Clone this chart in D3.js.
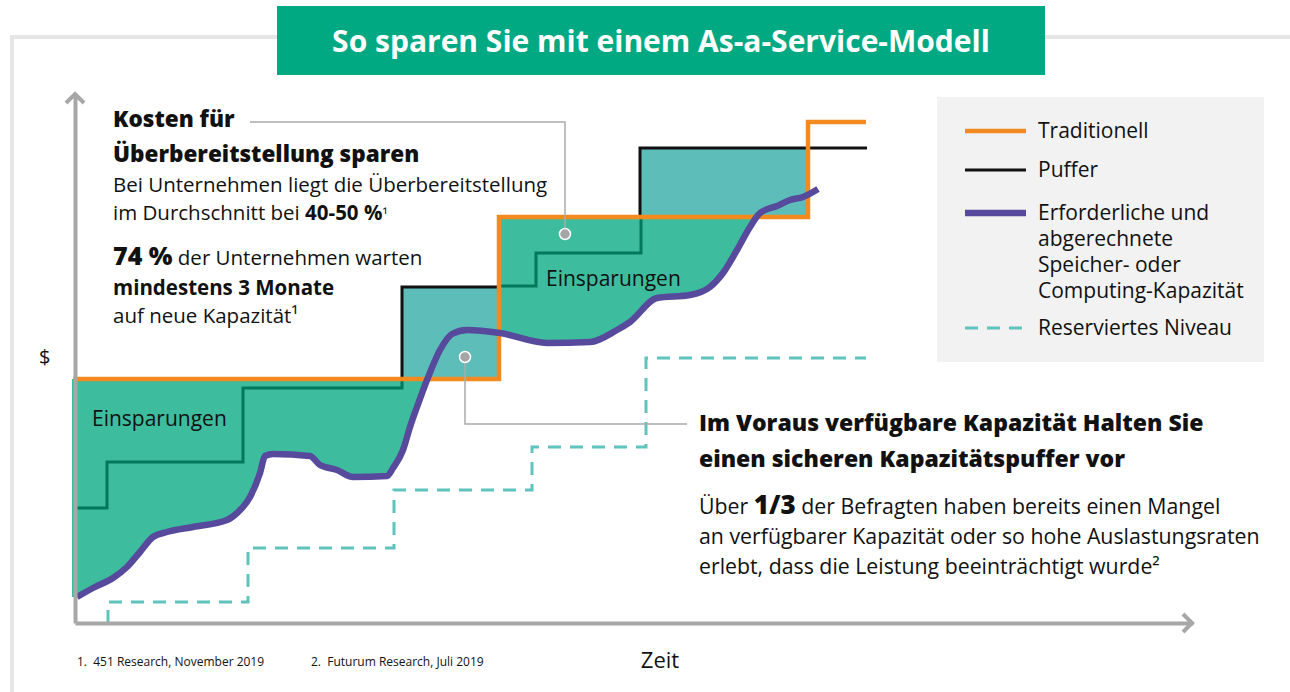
<!DOCTYPE html>
<html>
<head>
<meta charset="utf-8">
<script src="https://cdn.jsdelivr.net/npm/d3@7"></script>
<style>
  body { margin: 0; background: #fff; }
  svg text { font-family: "Open Sans", Lato, sans-serif; fill: #111; }
</style>
</head>
<body>
<div id="chart"></div>
<script>
const W = 1290, H = 692;

// step lines (x = time, y = $)
const tradX = [0, 424, 733, 791];
const tradY = [244, 406, 501, 501];

const pufferX = [0, 327, 424, 565, 792];
const pufferY = [244, 336, 406, 475, 475];

const prevX = [0, 32, 168, 327, 424, 461, 566];
const prevY = [115, 161, 235, 244, 337, 370, 406];

const reservedX = [33, 33, 173, 319, 457, 571, 791];
const reservedY = [0, 21, 75, 133, 176, 265, 265];

// measured demand curve
const demandX = [2, 18, 38, 52, 65, 78, 92, 118, 152, 162, 175, 185, 190, 198, 235, 245, 262, 278, 312, 318, 328, 335, 342, 352, 365, 377, 392, 425, 472, 515, 542, 555, 582, 615, 635, 648, 662, 675, 685, 702, 715, 728, 743];
const demandY = [26, 35, 45, 56, 71, 86, 91, 96, 103, 110, 126, 150, 167, 169, 167, 158, 153, 146, 147, 155, 173, 196, 216, 243, 273, 289, 293, 290, 280, 281, 293, 301, 325, 328, 336, 350, 373, 396, 410, 417, 423, 426, 434];

const legendLabels = ["Traditionell", "Puffer", ["Erforderliche und", "abgerechnete", "Speicher- oder", "Computing-Kapazität"], "Reserviertes Niveau"];

const colors = {
  trad: "#f28a1f", puffer: "#111", demand: "#574a9d", reserved: "#5ec4bc",
  prev: "#00785a", green: "#3ebd9e", teal: "#5dbdb8", axis: "#a7a7a7", title: "#01a982"
};

const svg = d3.select("#chart").append("svg")
    .attr("width", W)
    .attr("height", H);

const x = d3.scaleLinear().domain([0, 800]).range([75, 875]);
const y = d3.scaleLinear().domain([0, 530]).range([623, 93]);

const pts = (xs, ys) => xs.map((v, i) => [v, ys[i]]);
const trad = pts(tradX, tradY);
const puffer = pts(pufferX, pufferY);
const prev = pts(prevX, prevY);
const reserved = pts(reservedX, reservedY);
const demand = pts(demandX, demandY);

// outer frame
svg.append("path")
    .attr("d", "M12,692V37H1290")
    .attr("fill", "none")
    .attr("stroke", "#e6e6e6")
    .attr("stroke-width", 4);

// title
svg.append("rect")
    .attr("x", 277).attr("y", 6)
    .attr("width", 768).attr("height", 69)
    .attr("fill", colors.title);
svg.append("text")
    .attr("x", 661).attr("y", 52)
    .attr("text-anchor", "middle")
    .style("font-size", "30px")
    .style("font-weight", "bold")
    .style("fill", "#fff")
    .text("So sparen Sie mit einem As-a-Service-Modell");

// clip paths
const defs = svg.append("defs");
defs.append("clipPath").attr("id", "aboveTrad")
  .append("path")
    .attr("d", d3.area().curve(d3.curveStepAfter)
        .x(d => x(d[0])).y0(d => y(d[1])).y1(y(530))(trad));
defs.append("clipPath").attr("id", "belowTrad")
  .append("path")
    .attr("d", d3.area().curve(d3.curveStepAfter)
        .x(d => x(d[0])).y0(y(0)).y1(d => y(d[1]))([[-3, tradY[0]], ...trad.slice(1)]));

// teal: buffer above traditional
svg.append("g").attr("clip-path", "url(#aboveTrad)")
  .append("path")
    .attr("d", d3.area().curve(d3.curveStepAfter)
        .x(d => x(d[0])).y0(y(0)).y1(d => y(d[1]))(puffer))
    .attr("fill", colors.teal);

// green: savings between traditional and demand (up to the last traditional step)
const demandSaved = demand.filter(d => d[0] <= tradX[2]);
svg.append("g").attr("clip-path", "url(#belowTrad)")
  .append("path")
    .attr("d", d3.area().curve(d3.curveMonotoneX)
        .x(d => x(d[0])).y0(d => y(d[1])).y1(y(530))([[-3, demandY[0]], ...demandSaved]))
    .attr("fill", colors.green);

const step = d3.line().curve(d3.curveStepAfter).x(d => x(d[0])).y(d => y(d[1]));

svg.append("path").attr("d", step(prev))
    .attr("fill", "none").attr("stroke", colors.prev).attr("stroke-width", 3);

svg.append("path").attr("d", step(reserved))
    .attr("fill", "none").attr("stroke", colors.reserved).attr("stroke-width", 3)
    .attr("stroke-dasharray", "13,9");

svg.append("path").attr("d", step(puffer))
    .attr("fill", "none").attr("stroke", colors.puffer).attr("stroke-width", 3);

svg.append("path").attr("d", step([[-2, tradY[0]], ...trad.slice(1)]))
    .attr("fill", "none").attr("stroke", colors.trad).attr("stroke-width", 4.5);

svg.append("path")
    .attr("d", d3.line().curve(d3.curveMonotoneX).x(d => x(d[0])).y(d => y(d[1]))(demand))
    .attr("fill", "none").attr("stroke", colors.demand).attr("stroke-width", 6.5)
    .attr("stroke-linejoin", "round");

// axes
const xAxisScale = d3.scaleLinear().domain([0, 1118]).range([75, 1193]);
svg.append("g")
    .attr("class", "xAxis")
    .attr("transform", `translate(0,${y(0)})`)
    .call(d3.axisBottom(xAxisScale).ticks(0).tickSizeOuter(0));
svg.append("g")
    .attr("class", "yAxis")
    .attr("transform", `translate(${x(0)},0)`)
    .call(d3.axisLeft(y).ticks(0).tickSizeOuter(0));
svg.selectAll(".xAxis .domain, .yAxis .domain")
    .attr("stroke", colors.axis).attr("stroke-width", 4);
svg.append("path")
    .attr("d", `M${x(0) - 9},${y(530) + 10}L${x(0)},${y(530) + 1}L${x(0) + 9},${y(530) + 10}`)
    .attr("fill", "none").attr("stroke", colors.axis).attr("stroke-width", 4);
svg.append("path")
    .attr("d", `M${xAxisScale(1118) - 10},${y(0) - 9}L${xAxisScale(1118) - 1},${y(0)}L${xAxisScale(1118) - 10},${y(0) + 9}`)
    .attr("fill", "none").attr("stroke", colors.axis).attr("stroke-width", 4);

svg.append("text").attr("x", 39).attr("y", 364)
    .style("font-size", "20px").text("$");
svg.append("text").attr("x", 660).attr("y", 668)
    .attr("text-anchor", "middle")
    .style("font-size", "22px").text("Zeit");

// Einsparungen labels
svg.append("text").attr("x", 92).attr("y", 426)
    .style("font-size", "21px").text("Einsparungen");
svg.append("text").attr("x", 546).attr("y", 286)
    .style("font-size", "21px").text("Einsparungen");

// callouts
function callout(pathD, dx, dy) {
    svg.append("path").attr("d", pathD)
        .attr("fill", "none").attr("stroke", "#aaa").attr("stroke-width", 1.5);
    svg.append("circle").attr("cx", dx).attr("cy", dy).attr("r", 5.5)
        .attr("fill", "#a6a6a6").attr("stroke", "#fff").attr("stroke-width", 1.5);
}
callout(`M250,122H${x(490)}V${y(389)}`, x(490), y(389));
callout(`M687,424H${x(390)}V${y(266)}`, x(390), y(266));

// text blocks
function richLine(xp, yp, parts) {
    const t = svg.append("text").attr("x", xp).attr("y", yp);
    parts.forEach(p => {
        t.append("tspan")
            .style("font-size", (p.size || 20.5) + "px")
            .style("font-weight", p.bold ? (p.bold === true ? "bold" : p.bold) : "normal")
            .text(p.t);
    });
    return t;
}
richLine(113, 127, [{ t: "Kosten für", size: 22.5, bold: 800 }]);
richLine(113, 162, [{ t: "Überbereitstellung sparen", size: 22.5, bold: 800 }]);
richLine(113, 192, [{ t: "Bei Unternehmen liegt die Überbereitstellung" }]);
richLine(113, 220, [{ t: "im Durchschnitt bei " }, { t: "40-50 %", bold: true }, { t: "¹", size: 15 }]);
richLine(113, 265, [{ t: "74 %", size: 25, bold: 800 }, { t: " der Unternehmen warten" }]);
richLine(113, 295, [{ t: "mindestens 3 Monate", bold: true }]);
richLine(113, 323, [{ t: "auf neue Kapazität¹" }]);

richLine(699, 431, [{ t: "Im Voraus verfügbare Kapazität Halten Sie", size: 23, bold: 800 }]);
richLine(699, 467, [{ t: "einen sicheren Kapazitätspuffer vor", size: 23, bold: 800 }]);
richLine(699, 514, [{ t: "Über ", size: 21.3 }, { t: "1/3", size: 26, bold: 800 }, { t: " der Befragten haben bereits einen Mangel", size: 21.3 }]);
richLine(699, 544, [{ t: "an verfügbarer Kapazität oder so hohe Auslastungsraten", size: 21.3 }]);
richLine(699, 574, [{ t: "erlebt, dass die Leistung beeinträchtigt wurde²", size: 21.3 }]);

// legend
const legend = svg.append("g").attr("class", "legend");
legend.append("rect")
    .attr("x", 937).attr("y", 97)
    .attr("width", 327).attr("height", 265)
    .attr("fill", "#f2f2f2");
const legendItems = [
    { y: 131, color: colors.trad, width: 4.5, dash: null },
    { y: 170, color: colors.puffer, width: 3, dash: null },
    { y: 213, color: colors.demand, width: 6.5, dash: null },
    { y: 328, color: colors.reserved, width: 3, dash: "13,9" }
];
legendItems.forEach((d, i) => {
    legend.append("line")
        .attr("x1", 965).attr("x2", 1026)
        .attr("y1", d.y).attr("y2", d.y)
        .attr("stroke", d.color).attr("stroke-width", d.width)
        .attr("stroke-dasharray", d.dash);
    const lines = [].concat(legendLabels[i]);
    const t = legend.append("text").attr("x", 1038).attr("y", d.y + 7)
        .style("font-size", "21px");
    lines.forEach((l, j) => {
        t.append("tspan").attr("x", 1038).attr("dy", j === 0 ? 0 : 26).text(l);
    });
});

// footnotes
svg.append("text").attr("x", 77).attr("y", 666)
    .style("font-size", "12px").text("1.\u00a0\u00a0451 Research, November 2019");
svg.append("text").attr("x", 311).attr("y", 666)
    .style("font-size", "12px").text("2.\u00a0\u00a0Futurum Research, Juli 2019");
</script>
</body>
</html>
